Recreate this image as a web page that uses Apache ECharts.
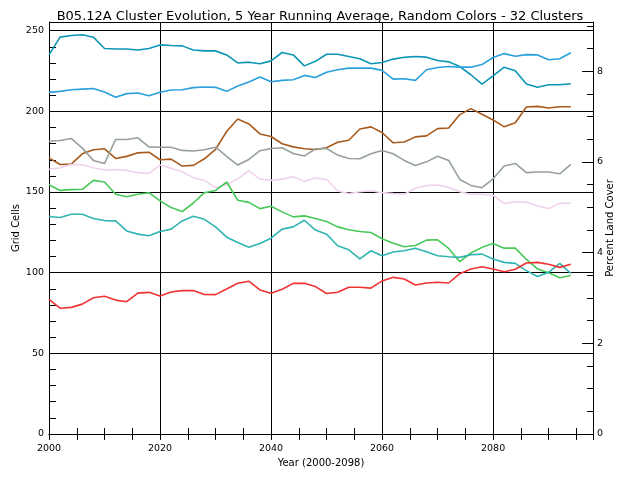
<!DOCTYPE html>
<html><head><meta charset="utf-8">
<script src="https://cdn.jsdelivr.net/npm/echarts@6/dist/echarts.min.js"></script>
<style>html,body{margin:0;padding:0;background:#fff}#c{width:640px;height:480px}</style>
</head><body><div id="c"></div>
<script>
const years = [2000,2002,2004,2006,2008,2010,2012,2014,2016,2018,2020,2022,2024,2026,2028,2030,2032,2034,2036,2038,2040,2042,2044,2046,2048,2050,2052,2054,2056,2058,2060,2062,2064,2066,2068,2070,2072,2074,2076,2078,2080,2082,2084,2086,2088,2090,2092,2094];
const darkTeal = [235,246,247,247.5,246,239,238.7,238.7,238,239,241.2,240.8,240.6,238,237.5,237.5,235,230,230.5,229.5,231.3,236.5,235,228.2,231,235.4,235.4,234,232.6,229.5,230.3,232.4,233.5,234,233.6,231.5,230.7,227.8,222.7,216.9,222,227.4,225.2,216.9,214.9,216.5,216.5,217.1];
const lightBlue = [211.8,212.4,213.4,213.8,214.2,212,208.7,211,211.4,209.7,211.8,213.2,213.4,214.7,215.1,214.9,212.4,215.7,218.2,221.3,218.4,219.2,219.6,222.3,221,224.3,225.8,226.8,226.8,226.8,225.4,220,220.2,219.2,225.8,227.2,227.8,227.4,227.4,229,233.4,235.8,234.2,235.2,235,232,232.6,236.3];
const brown = [171.2,167.1,167.3,173.7,176.2,176.8,170.8,172.1,174.3,174.7,170,170.4,166.1,166.5,170.6,176.4,187.5,195.3,192.2,186,184.4,179.9,178,176.8,176.4,177.4,180.9,182.1,189.1,190.4,186.9,180.5,181,184.2,184.8,189.3,189.7,198,201.7,198.2,194.7,190.4,192.9,202.7,203.1,202.1,202.9,202.9];
const gray = [181.5,181.9,183.2,177.2,169.6,167.7,182.6,182.6,183.6,178,177.8,177.8,175.8,175.4,176.2,177.8,172.1,166.7,170.2,175.6,177,177.4,173.9,172.3,176.8,177,172.9,170.8,170.6,173.7,175.8,173.7,169.6,166.5,168.7,172.2,169.6,157.8,154.1,152.7,158.2,166.1,167.7,162,162.4,162.4,161.3,167.1];
const pink = [164,165,167.1,166.9,165,163.6,164,163.4,162,161.5,166.7,164.8,162.6,158.9,157.2,152.7,154.6,158.2,163.2,158,157.2,158,159.5,156.6,158.7,157.8,150.6,149,150.2,150.8,149.6,149,148.6,152.3,154.1,154.3,152.9,150.2,148.6,148.6,148,142.8,144,143.6,141.4,139.7,143,143];
const green = [154.5,151,151.5,151.7,157.2,156.2,148.6,147.1,148.6,149.6,144.5,140.4,137.9,143.2,149.6,151,156.2,144.9,143.6,139.7,141.2,137.7,134.6,135.2,133.6,131.7,128.4,126.6,125.5,124.9,121,118.3,116.1,116.9,120.2,120.4,115,106.8,112.2,115.7,118.1,115.2,115.2,108.2,102.3,100,96.9,98.2];
const teal = [134.8,134.2,136.2,136.2,133.6,132.3,132.1,125.9,123.9,122.9,125.5,127,132.1,135,133.1,128.4,122,118.7,115.7,118.1,121.4,127,128.4,132.5,126.4,123.9,116.7,114.2,108.5,113.6,110.5,112.8,113.6,115.2,113,110.5,109.9,109.5,111.1,111.5,108.5,106.4,105.8,101.3,97.6,100.2,105.8,99.6];
const red = [83.5,78,78.5,80.5,84.5,85.4,83,82,87.3,87.8,85.5,88,88.9,88.9,86.5,86.4,89.9,93.4,94.7,89.3,87.3,89.7,93.4,93.4,91.4,87.1,87.9,91,91,90.4,94.9,97.1,96.1,92.4,93.6,94.1,93.6,99.4,102.3,103.7,102.3,100.6,102.1,106,106.4,105.2,103.3,105.2];

const seriesList = [
  {name:'darkTeal', data:darkTeal, color:'#0c96b6'},
  {name:'lightBlue', data:lightBlue, color:'#2aa0dc'},
  {name:'brown', data:brown, color:'#a85a1c'},
  {name:'gray', data:gray, color:'#96a09c'},
  {name:'pink', data:pink, color:'#f0d2ec'},
  {name:'green', data:green, color:'#48c858'},
  {name:'teal', data:teal, color:'#30b4b4'},
  {name:'red', data:red, color:'#f03232'}
];

const F = 'DejaVu Sans';
const G = {left:49, right:47, top:22, bottom:46};
const XMIN = 2000, XMAX = 2098, YMAX = 255.4, PMAX = 9.087;
const black = {color:'#000', width:1};

const chart = echarts.init(document.getElementById('c'));
chart.setOption({
  animation:false,
  backgroundColor:'#fff',
  title:{text:'B05.12A Cluster Evolution, 5 Year Running Average, Random Colors - 32 Clusters', left:'center', top:5,
    textStyle:{fontFamily:F, fontSize:13, fontWeight:'normal', color:'#000'}},
  grid:[Object.assign({}, G), Object.assign({}, G)],
  xAxis:[
    {gridIndex:0, type:'value', position:'bottom', min:XMIN, max:XMAX, interval:20,
     axisLine:{lineStyle:black}, axisTick:{show:false},
     axisLabel:{showMaxLabel:false, color:'#000', fontFamily:F, fontSize:9.5, margin:10, formatter:v => String(v)},
     splitLine:{show:true, lineStyle:black},
     name:'Year (2000-2098)', nameLocation:'middle', nameGap:24, nameMoveOverlap:false,
     nameTextStyle:{fontFamily:F, fontSize:10, color:'#000'}},
    {gridIndex:0, type:'value', position:'top', min:XMIN, max:XMAX, interval:20,
     axisLine:{lineStyle:black}, axisTick:{show:false}, axisLabel:{show:false}, splitLine:{show:false}},
    {gridIndex:1, type:'value', position:'bottom', min:XMIN, max:XMAX, interval:5,
     axisLine:{show:false}, axisTick:{show:true, inside:true, length:6, lineStyle:black}, axisLabel:{show:false}, splitLine:{show:false}},
    {gridIndex:1, type:'value', position:'top', min:XMIN, max:XMAX, interval:5,
     axisLine:{show:false}, axisTick:{show:true, inside:true, length:6, lineStyle:black}, axisLabel:{show:false}, splitLine:{show:false}}
  ],
  yAxis:[
    {gridIndex:0, type:'value', position:'left', min:0, max:YMAX, interval:50,
     axisLine:{show:true, lineStyle:black}, axisTick:{show:false},
     axisLabel:{showMaxLabel:false, color:'#000', fontFamily:F, fontSize:9.5, margin:5},
     splitLine:{show:true, lineStyle:black},
     name:'Grid Cells', nameLocation:'middle', nameGap:28, nameRotate:90, nameMoveOverlap:false,
     nameTextStyle:{fontFamily:F, fontSize:10, color:'#000'}},
    {gridIndex:0, type:'value', position:'right', min:0, max:PMAX, interval:2,
     axisLine:{show:true, lineStyle:black}, axisTick:{show:true, inside:true, length:11, lineStyle:black},
     axisLabel:{showMaxLabel:false, color:'#000', fontFamily:F, fontSize:9.5, margin:4},
     splitLine:{show:false},
     name:'Percent Land Cover', nameLocation:'middle', nameGap:12, nameRotate:90, nameMoveOverlap:false,
     nameTextStyle:{fontFamily:F, fontSize:10, color:'#000'}},
    {gridIndex:1, type:'value', position:'left', min:0, max:YMAX, interval:10,
     axisLine:{show:false}, axisTick:{show:true, inside:true, length:7, lineStyle:black}, axisLabel:{show:false}, splitLine:{show:false}},
    {gridIndex:1, type:'value', position:'right', min:0, max:PMAX, interval:0.5,
     axisLine:{show:false}, axisTick:{show:true, inside:true, length:6, lineStyle:black}, axisLabel:{show:false}, splitLine:{show:false}}
  ],
  series: seriesList.map(s => ({
    type:'line', name:s.name, xAxisIndex:0, yAxisIndex:0,
    data: years.map((y,i) => [y, s.data[i]]),
    showSymbol:false, symbol:'none', smooth:false,
    lineStyle:{color:s.color, width:1.6}, itemStyle:{color:s.color}
  }))
});
</script>
</body></html>
